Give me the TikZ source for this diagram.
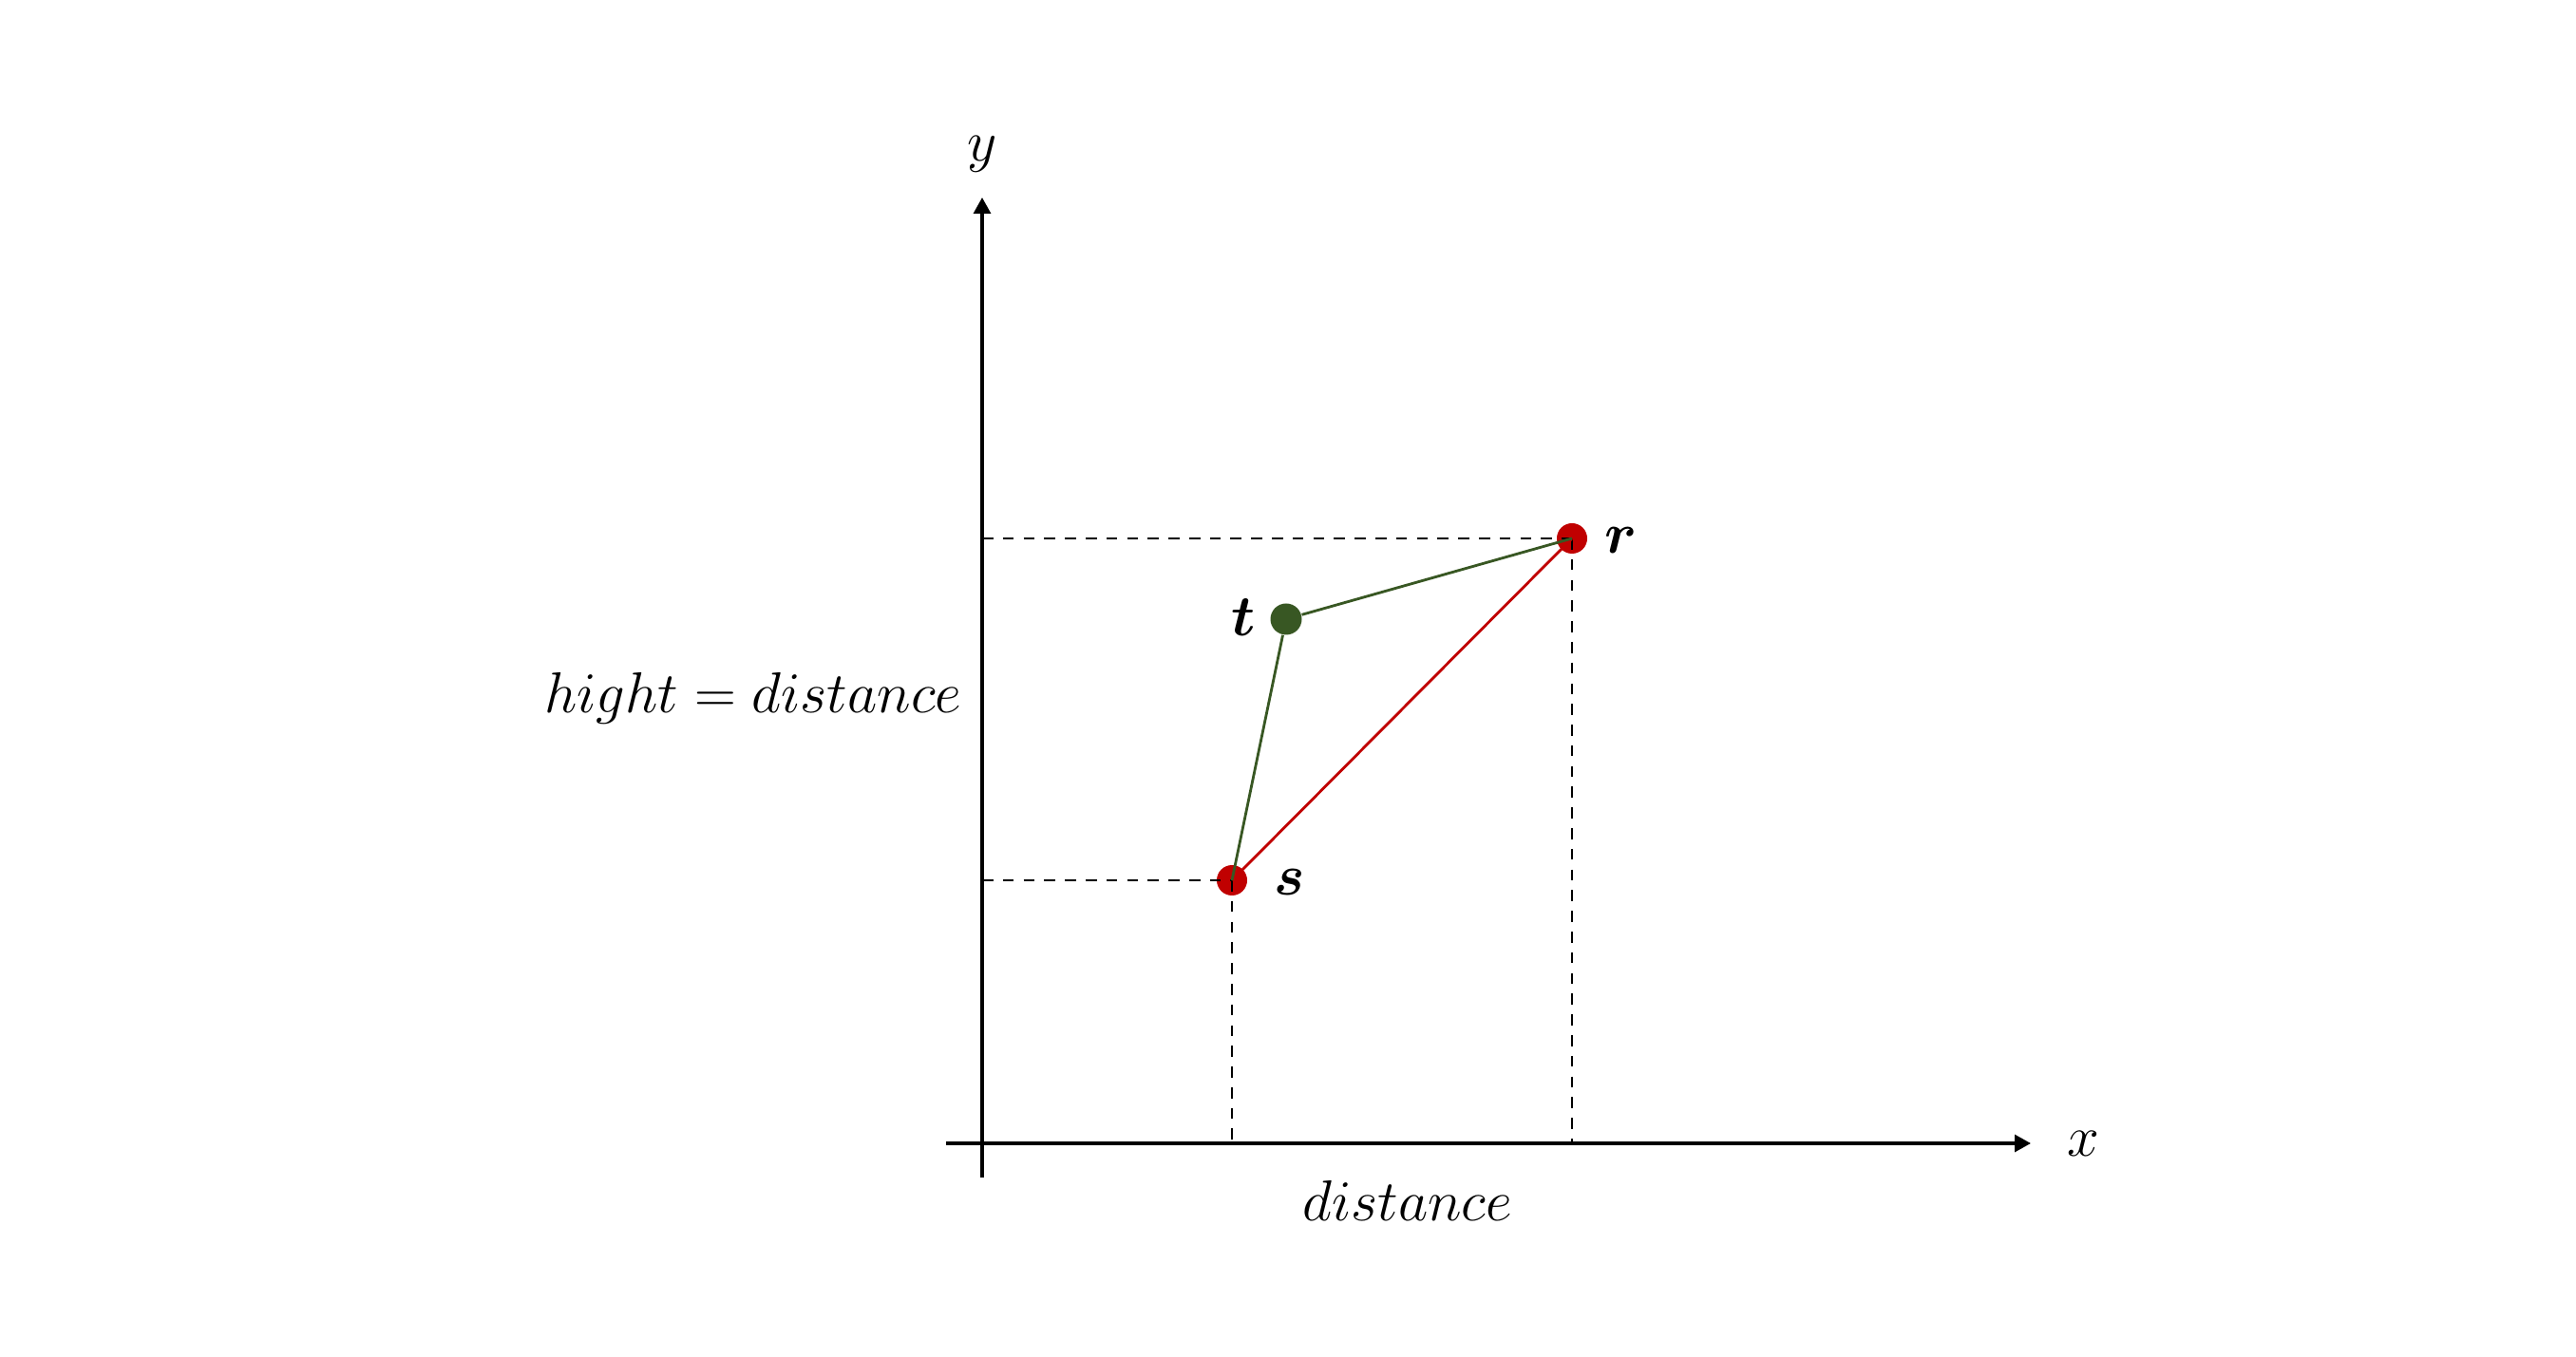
\documentclass[tikz,border=0pt]{standalone}
\usepackage{amsmath}
\usepackage{amssymb}
\usepackage{tikz}
\usetikzlibrary{arrows.meta,calc,positioning}

\definecolor{dotred}{RGB}{192,0,0}
\definecolor{dotgreen}{RGB}{56,87,35}

\tikzset{
  axisline/.style={black,line width=0.9pt,-{Triangle[length=0.17cm,width=0.18cm]}},
  dashline/.style={black,line width=0.8pt,dash pattern=on 3.3pt off 2.9pt},
  reddot/.style={circle,fill=dotred,inner sep=0pt,minimum size=0.32cm},
  greendot/.style={circle,fill=dotgreen,inner sep=0pt,minimum size=0.33cm},
  redline/.style={dotred,line width=0.8pt},
  greenline/.style={dotgreen,line width=0.8pt},
  lbl/.style={font=\fontsize{16}{19}\selectfont,inner sep=0pt}
}

\begin{document}
\begin{tikzpicture}
\useasboundingbox (0,0) rectangle (27.12,14.28);
% ==========================================
\coordinate (O) at (10.34,2.24);
\coordinate (xs) at (9.96,2.24);
\coordinate (xe) at (21.38,2.24);
\coordinate (ys) at (10.34,1.88);
\coordinate (ye) at (10.34,12.20);
%
\draw[axisline] (xs) -- (xe);
\draw[axisline] (ys) -- (ye);
\node[lbl] (xl) at (21.93,2.24) {$x$};
\node[lbl] (yl) at (10.34,12.66) {$y$};
%
\node[reddot] (s) at (12.97,5.01) {};
\node[reddot] (r) at (16.55,8.61) {};
\node[greendot] (t) at (13.54,7.76) {};
%
\draw[dashline] (O |- r) -- (r.center);
\draw[dashline] (O |- s) -- (s.center);
\draw[dashline] (s.center) -- (s |- O);
\draw[dashline] (r.center) -- (r |- O);
%
\draw[redline] (s.center) -- (r.center);
\draw[greenline] (s.center) -- (t) -- (r.center);
%
\node[lbl] (rl) at (17.07,8.59) {$\boldsymbol{r}$};
\node[lbl] (tl) at (13.09,7.78) {$\boldsymbol{t}$};
\node[lbl] (sl) at (13.58,4.99) {$\boldsymbol{s}$};
%
\node[lbl] (dist) at (14.82,1.64) {$distance$};
\node[lbl,anchor=east] (hgt) at (10.13,6.93) {$hight = distance$};
% ==========================================
\end{tikzpicture}
\end{document}
